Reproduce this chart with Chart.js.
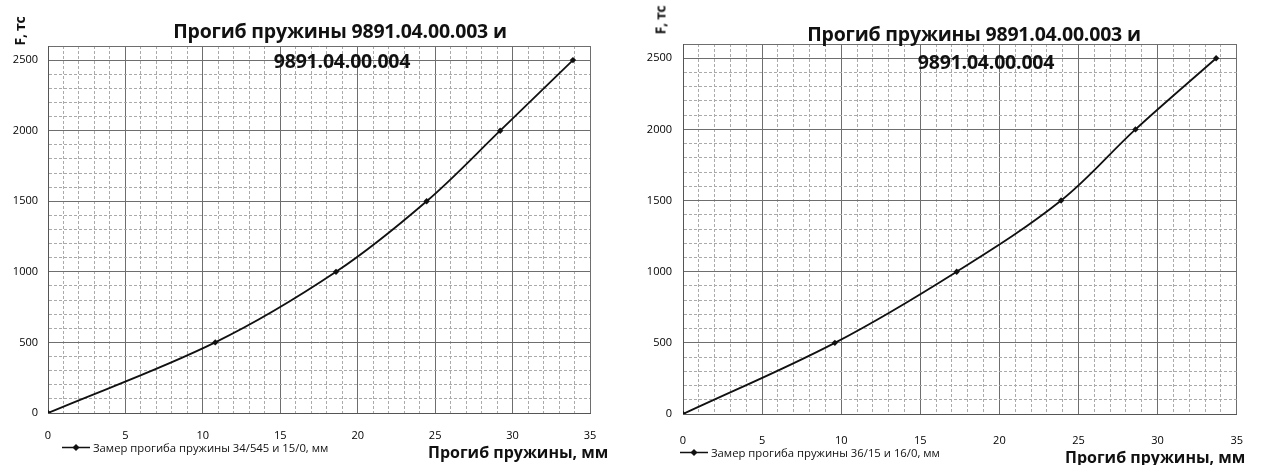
<!DOCTYPE html>
<html>
<head>
<meta charset="utf-8">
<script src="https://cdn.jsdelivr.net/npm/chart.js@4.4.1/dist/chart.umd.min.js"></script>
<style>
  html, body { margin: 0; padding: 0; background: #fff; }
  body { width: 1263px; height: 465px; position: relative; overflow: hidden; font-family: "Open Sans", "Noto Sans", sans-serif; }
  .panel { position: absolute; top: 0; height: 465px; }
  .panel canvas { position: absolute; left: 0; top: 0; }
  .txt { position: absolute; white-space: nowrap; color: #111; }
  .title { font-weight: 700; font-size: 19.5px; transform: translate(-50%, -50%); letter-spacing: -0.2px; }
  .ytitle { font-weight: 700; font-size: 14px; letter-spacing: -0.3px; transform: translate(-50%, -50%) rotate(-90deg); }
  .xtitle { font-weight: 700; font-size: 16px; transform: translate(0, -50%); }
  .legend { transform: translate(0, -50%); display: flex; align-items: center; font-size: 11.3px; }
  .legend svg { margin-right: 3px; }
</style>
</head>
<body>
<div class="panel" id="p1" style="left:0;width:622px;"><canvas id="c1" width="622" height="465"></canvas></div>
<div class="panel" id="p2" style="left:628px;width:635px;"><canvas id="c2" width="635" height="465"></canvas></div>

<!-- left panel texts -->
<div class="txt ytitle" style="left:19px;top:31px;">F, тс</div>
<div class="txt title" style="left:340px;top:30px;">Прогиб пружины 9891.04.00.003 и</div>
<div class="txt title" style="left:342px;top:60px;">9891.04.00.004</div>
<div class="txt xtitle" style="left:428px;top:452px;">Прогиб пружины, мм</div>
<div class="txt legend" id="lg1" style="left:62px;top:447px;"></div>

<!-- right panel texts -->
<div class="txt ytitle" style="left:660px;top:20px;">F, тс</div>
<div class="txt title" style="left:974px;top:33px;">Прогиб пружины 9891.04.00.003 и</div>
<div class="txt title" style="left:986px;top:61px;">9891.04.00.004</div>
<div class="txt xtitle" style="left:1065px;top:457px;">Прогиб пружины, мм</div>
<div class="txt legend" id="lg2" style="left:680px;top:452px;"></div>

<script>
// Measured spring deflection (mm) at each load step (tf)
const loadValues = [0, 500, 1000, 1500, 2000, 2500];
const deflection3445 = [0, 10.8, 18.6, 24.45, 29.2, 33.9];
const deflection3615 = [0, 9.6, 17.3, 23.9, 28.6, 33.7];

// Labelled ticks on the axes
const xTickLabels = [0, 5, 10, 15, 20, 25, 30, 35];
const yTickLabels = [0, 500, 1000, 1500, 2000, 2500];

const seriesNames = [
  'Замер прогиба пружины 34/545 и 15/0, мм',
  'Замер прогиба пружины 36/15 и 16/0, мм'
];

const X_MAX = 35, Y_MAX = 2600;

function legendSymbol() {
  return '<svg width="28" height="8" viewBox="0 0 28 8"><line x1="0" y1="4" x2="28" y2="4" stroke="#111" stroke-width="1.6"/>' +
         '<polygon points="14,0.5 17.5,4 14,7.5 10.5,4" fill="#111"/></svg>';
}
document.getElementById('lg1').innerHTML = legendSymbol() + '<span>' + seriesNames[0] + '</span>';
document.getElementById('lg2').innerHTML = legendSymbol() + '<span>' + seriesNames[1] + '</span>';

function isMajor(scaleId, v) {
  if (scaleId === 'x') return v % 5 === 0;
  return v % 500 === 0 || v === Y_MAX;
}

function makeChart(canvasId, xs, geom) {
  const points = xs.map((x, i) => ({ x: x, y: loadValues[i] }));
  const gridColor = (id) => (ctx) => (ctx.tick && isMajor(id, ctx.tick.value)) ? '#6e6e6e' : '#aaaaaa';
  const gridDash = (id) => (ctx) => (ctx.tick && !isMajor(id, ctx.tick.value)) ? [3, 2] : [];
  const tickFont = { family: 'Open Sans, sans-serif', size: 11 };
  return new Chart(document.getElementById(canvasId), {
    type: 'scatter',
    data: {
      datasets: [{
        data: points,
        showLine: true,
        borderColor: '#111',
        borderWidth: 1.8,
        tension: 0.35,
        pointStyle: 'rectRot',
        pointRadius: 3.2,
        pointBackgroundColor: '#111',
        pointBorderColor: '#111',
        pointBorderWidth: 0
      }]
    },
    options: {
      responsive: false,
      animation: false,
      events: [],
      layout: { padding: { top: geom.top, right: geom.right, bottom: geom.bottom, left: 0 } },
      plugins: { legend: { display: false }, title: { display: false }, tooltip: { enabled: false } },
      scales: {
        x: {
          type: 'linear', min: 0, max: X_MAX,
          afterFit: (s) => { s.height = geom.xAxisH; },
          ticks: {
            stepSize: 1, autoSkip: false, maxRotation: 0, padding: geom.xPad, color: '#000',
            font: tickFont,
            callback: (v) => xTickLabels.includes(v) ? String(v) : ''
          },
          grid: { color: gridColor('x'), lineWidth: 1, drawTicks: false },
          border: { display: true, color: '#555', width: 1, dash: gridDash('x') }
        },
        y: {
          type: 'linear', min: 0, max: Y_MAX,
          afterFit: (s) => { s.width = geom.yAxisW; },
          ticks: {
            stepSize: 100, autoSkip: false, padding: geom.yPad, color: '#000',
            font: tickFont,
            callback: (v) => yTickLabels.includes(v) ? String(v) : ''
          },
          grid: { color: gridColor('y'), lineWidth: 1, drawTicks: false },
          border: { display: true, color: '#555', width: 1, dash: gridDash('y') }
        }
      }
    }
  });
}

makeChart('c1', deflection3445, { top: 46, right: 32, bottom: 22, xAxisH: 30, yAxisW: 48, xPad: 16, yPad: 10 });
makeChart('c2', deflection3615, { top: 44, right: 17, bottom: 21, xAxisH: 30, yAxisW: 55, xPad: 20, yPad: 11 });
</script>
</body>
</html>
